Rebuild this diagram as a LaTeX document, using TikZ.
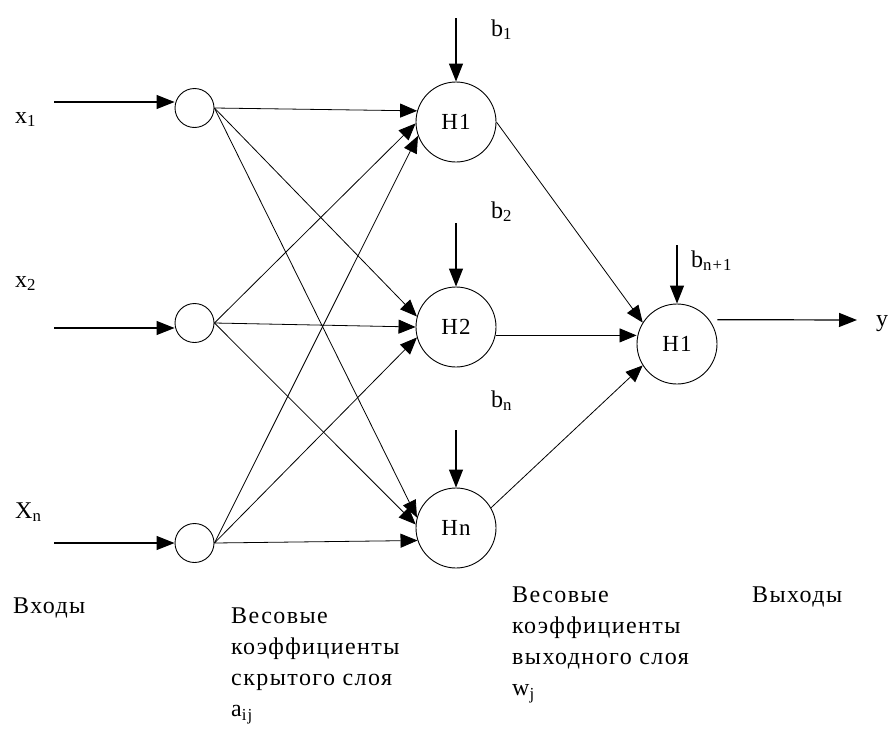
\documentclass[tikz,border=0pt]{standalone}
\usepackage{fontspec}
\setmainfont[LetterSpace=6]{Liberation Serif}
\usetikzlibrary{arrows.meta}

\begin{document}
\begin{tikzpicture}[x=1pt, y=-1pt,
    neuron/.style={draw, circle, line width=0.9pt, minimum size=39pt, inner sep=0pt},
    unit/.style={draw, circle, line width=0.9pt, minimum size=80pt, inner sep=0pt, font=\fontsize{23}{28}\selectfont},
    feed/.style={line width=1.2pt, -{Triangle[length=18pt, width=14pt]}},
    link/.style={line width=0.8pt, -{Triangle[length=17pt, width=14pt]}},
    lbl/.style={anchor=base west, inner sep=0pt, font=\fontsize{24}{31}\selectfont},
    txt/.style={anchor=north west, inner sep=0pt, align=left, font=\fontsize{24}{31}\selectfont},
    ]
    \useasboundingbox (0,0) rectangle (888,728);
    % input layer
    \node[neuron] (in1) at (194.5,108) {};
    \node[neuron] (in2) at (194.5,323) {};
    \node[neuron] (in3) at (194.5,543) {};
    % hidden layer and output unit
    \node[unit] (h1) at (456,122) {H1};
    \node[unit] (h2) at (456,327) {H2};
    \node[unit] (hn) at (456,528) {Hn};
    \node[unit] (out) at (677,344) {H1};

    % free ends of the arrows
    \coordinate (s1) at (54,102);
    \coordinate (s2) at (54,328);
    \coordinate (s3) at (54,543);
    \coordinate (t1) at (456,18);
    \coordinate (t2) at (456,223);
    \coordinate (tn) at (456,430);
    \coordinate (tout) at (677,245);
    \coordinate (yend) at (857,320);

    \draw[feed] (s1) -- (s1 -| in1.west);
    \draw[feed] (s2) -- (s2 -| in2.west);
    \draw[feed] (s3) -- (s3 -| in3.west);
    % every input feeds every hidden unit, arrows meet on the left side
    \foreach \i/\j/\a in {in1/h1/164, in2/h1/182, in3/h1/200,
                          in1/h2/165, in2/h2/180, in3/h2/195,
                          in1/hn/165, in2/hn/175, in3/hn/198}
        \draw[link] (\i.east) -- (\j.\a);
    \draw[feed] (t1) -- (h1.north);
    \draw[feed] (t2) -- (h2.north);
    \draw[feed] (tn) -- (hn.north);
    \draw[feed] (tout) -- (out.north);
    \draw[link] (h1.east) -- (out.148);
    \draw[link] (h2.-12) -- (h2.-12 -| out.west);
    \draw[link] (hn.30) -- (out.212);
    \draw[feed] ([xshift=8pt]out.37) -- (yend);

    % labels
    \node[lbl] (lx1) at (15,123) {x\textsubscript{1}};
    \node[lbl] (lx2) at (15,287) {x\textsubscript{2}};
    \node[lbl] (lxn) at (15,518) {X\textsubscript{n}};
    \node[lbl] (lb1) at (491,36) {b\textsubscript{1}};
    \node[lbl] (lb2) at (491,218) {b\textsubscript{2}};
    \node[lbl] (lbn) at (491,407) {b\textsubscript{n}};
    \node[lbl] (lbo) at (691,267) {b\textsubscript{n+1}};
    \node[lbl] (ly) at (876,326) {y};

    \node[txt] (inputs) at (13,598) {Входы};
    \node[txt] (wh) at (231,608) {Весовые\\коэффициенты\\скрытого слоя\\a\textsubscript{ij}};
    \node[txt] (wo) at (512,587) {Весовые\\коэффициенты\\выходного слоя\\w\textsubscript{j}};
    \node[txt] (outputs) at (752,587) {Выходы};
\end{tikzpicture}
\end{document}
